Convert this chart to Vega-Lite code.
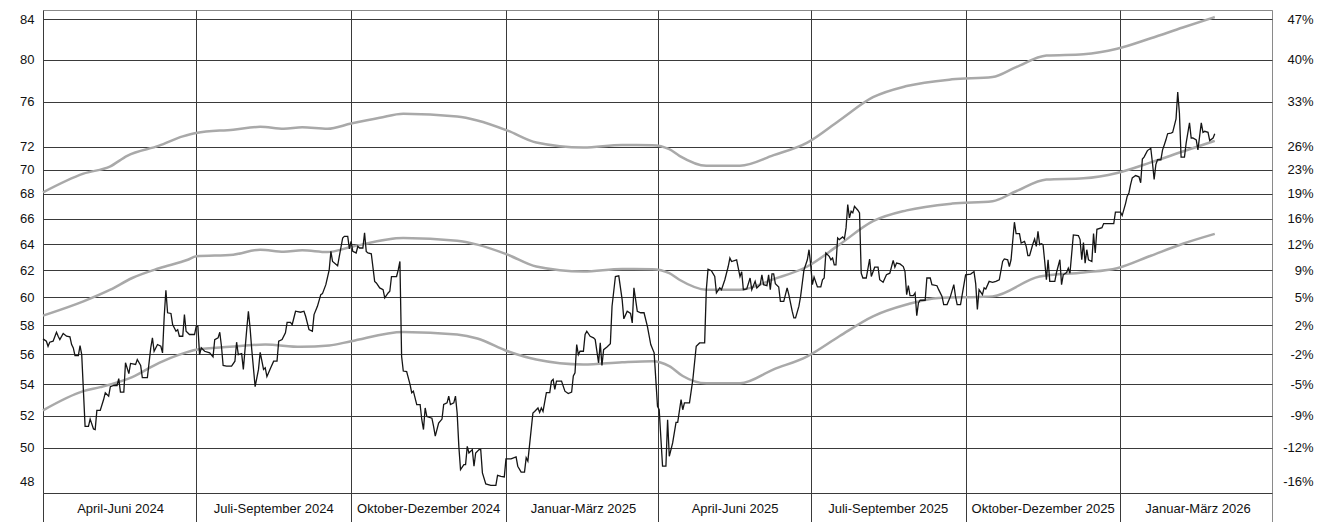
{
"$schema": "https://vega.github.io/schema/vega-lite/v6.json",
"width": 1229, "height": 483,
"autosize": {"type": "none"},
"padding": {"left": 43, "top": 10, "right": 58, "bottom": 29},
"background": "white",
"config": {"font": "Liberation Sans", "view": {"stroke": "#8a8a8a", "strokeWidth": 1}},
"datasets": {
"kurs": [
{"d":"2024-04-01","v":57.06},{"d":"2024-04-03","v":56.90},{"d":"2024-04-04","v":56.55},{"d":"2024-04-05","v":56.83},{"d":"2024-04-07","v":56.90},{"d":"2024-04-09","v":57.52},{"d":"2024-04-10","v":57.24},{"d":"2024-04-11","v":57.01},{"d":"2024-04-13","v":57.43},{"d":"2024-04-15","v":57.24},{"d":"2024-04-17","v":57.20},{"d":"2024-04-18","v":56.67},{"d":"2024-04-19","v":56.44},{"d":"2024-04-20","v":55.91},{"d":"2024-04-22","v":55.91},{"d":"2024-04-23","v":56.60},{"d":"2024-04-24","v":55.98},{"d":"2024-04-26","v":51.33},{"d":"2024-04-28","v":51.33},{"d":"2024-04-29","v":51.78},
{"d":"2024-05-01","v":51.17},{"d":"2024-05-02","v":51.13},{"d":"2024-05-03","v":52.33},{"d":"2024-05-05","v":52.33},{"d":"2024-05-07","v":53.02},{"d":"2024-05-08","v":53.46},{"d":"2024-05-10","v":53.24},{"d":"2024-05-11","v":53.85},{"d":"2024-05-13","v":53.93},{"d":"2024-05-15","v":53.93},{"d":"2024-05-16","v":54.38},{"d":"2024-05-17","v":53.50},{"d":"2024-05-19","v":53.50},{"d":"2024-05-20","v":55.43},{"d":"2024-05-22","v":54.71},{"d":"2024-05-23","v":55.39},{"d":"2024-05-26","v":55.32},{"d":"2024-05-27","v":55.65},{"d":"2024-05-29","v":55.25},{"d":"2024-05-30","v":54.44},
{"d":"2024-06-02","v":54.44},{"d":"2024-06-04","v":56.44},{"d":"2024-06-05","v":57.13},{"d":"2024-06-06","v":56.21},{"d":"2024-06-08","v":56.67},{"d":"2024-06-10","v":56.55},{"d":"2024-06-11","v":56.10},{"d":"2024-06-12","v":58.64},{"d":"2024-06-13","v":60.51},{"d":"2024-06-14","v":58.89},{"d":"2024-06-16","v":58.84},{"d":"2024-06-17","v":58.05},{"d":"2024-06-19","v":57.59},{"d":"2024-06-20","v":57.70},{"d":"2024-06-21","v":57.24},{"d":"2024-06-23","v":57.24},{"d":"2024-06-24","v":58.76},{"d":"2024-06-25","v":57.59},{"d":"2024-06-27","v":57.36},{"d":"2024-06-30","v":57.36},
{"d":"2024-07-01","v":57.93},{"d":"2024-07-02","v":57.93},{"d":"2024-07-03","v":55.98},{"d":"2024-07-04","v":56.44},{"d":"2024-07-06","v":56.21},{"d":"2024-07-09","v":56.10},{"d":"2024-07-11","v":55.83},{"d":"2024-07-12","v":57.01},{"d":"2024-07-14","v":57.13},{"d":"2024-07-15","v":57.52},{"d":"2024-07-16","v":56.55},{"d":"2024-07-17","v":55.25},{"d":"2024-07-19","v":55.21},{"d":"2024-07-22","v":55.21},{"d":"2024-07-24","v":55.54},{"d":"2024-07-25","v":56.83},{"d":"2024-07-26","v":55.98},{"d":"2024-07-28","v":56.05},{"d":"2024-07-29","v":54.99},{"d":"2024-07-31","v":57.70},
{"d":"2024-08-01","v":59.00},{"d":"2024-08-02","v":57.82},{"d":"2024-08-03","v":56.32},{"d":"2024-08-05","v":53.85},{"d":"2024-08-07","v":54.99},{"d":"2024-08-08","v":56.14},{"d":"2024-08-10","v":54.99},{"d":"2024-08-11","v":55.10},{"d":"2024-08-12","v":54.51},{"d":"2024-08-14","v":55.04},{"d":"2024-08-16","v":55.54},{"d":"2024-08-18","v":55.54},{"d":"2024-08-19","v":56.90},{"d":"2024-08-21","v":57.01},{"d":"2024-08-23","v":57.48},{"d":"2024-08-24","v":58.21},{"d":"2024-08-26","v":58.21},{"d":"2024-08-27","v":58.05},{"d":"2024-08-29","v":59.00},
{"d":"2024-09-01","v":58.93},{"d":"2024-09-03","v":59.00},{"d":"2024-09-04","v":58.64},{"d":"2024-09-06","v":57.70},{"d":"2024-09-08","v":57.59},{"d":"2024-09-09","v":58.76},{"d":"2024-09-11","v":59.35},{"d":"2024-09-13","v":60.20},{"d":"2024-09-14","v":60.27},{"d":"2024-09-16","v":60.93},{"d":"2024-09-18","v":62.02},{"d":"2024-09-19","v":63.43},{"d":"2024-09-20","v":62.66},{"d":"2024-09-23","v":62.33},{"d":"2024-09-24","v":63.05},{"d":"2024-09-26","v":64.47},{"d":"2024-09-27","v":64.60},{"d":"2024-09-29","v":64.60},{"d":"2024-09-30","v":63.62},
{"d":"2024-10-01","v":64.21},{"d":"2024-10-02","v":63.43},{"d":"2024-10-04","v":63.31},{"d":"2024-10-05","v":63.82},{"d":"2024-10-06","v":63.69},{"d":"2024-10-08","v":63.69},{"d":"2024-10-09","v":64.87},{"d":"2024-10-10","v":63.43},{"d":"2024-10-11","v":63.31},{"d":"2024-10-13","v":63.25},{"d":"2024-10-15","v":61.17},{"d":"2024-10-16","v":61.05},{"d":"2024-10-18","v":60.69},{"d":"2024-10-20","v":60.56},{"d":"2024-10-21","v":59.96},{"d":"2024-10-23","v":60.32},{"d":"2024-10-24","v":60.44},{"d":"2024-10-25","v":61.53},{"d":"2024-10-28","v":61.53},{"d":"2024-10-29","v":62.02},{"d":"2024-10-30","v":62.66},{"d":"2024-10-31","v":55.87},
{"d":"2024-11-01","v":54.88},{"d":"2024-11-03","v":54.84},{"d":"2024-11-05","v":54.00},{"d":"2024-11-06","v":53.46},{"d":"2024-11-07","v":53.56},{"d":"2024-11-09","v":52.70},{"d":"2024-11-11","v":52.70},{"d":"2024-11-12","v":51.74},{"d":"2024-11-13","v":51.13},{"d":"2024-11-14","v":52.48},{"d":"2024-11-15","v":51.94},{"d":"2024-11-18","v":51.84},{"d":"2024-11-19","v":51.33},{"d":"2024-11-20","v":50.72},{"d":"2024-11-22","v":51.53},{"d":"2024-11-24","v":51.78},{"d":"2024-11-25","v":52.70},{"d":"2024-11-27","v":52.81},{"d":"2024-11-28","v":53.24},{"d":"2024-11-29","v":52.70},
{"d":"2024-12-01","v":52.81},{"d":"2024-12-02","v":53.24},{"d":"2024-12-03","v":52.16},{"d":"2024-12-04","v":50.10},{"d":"2024-12-05","v":48.71},{"d":"2024-12-07","v":49.01},{"d":"2024-12-08","v":49.01},{"d":"2024-12-09","v":50.10},{"d":"2024-12-10","v":49.70},{"d":"2024-12-12","v":49.90},{"d":"2024-12-13","v":48.91},{"d":"2024-12-14","v":49.70},{"d":"2024-12-16","v":49.90},{"d":"2024-12-17","v":49.90},{"d":"2024-12-18","v":48.52},{"d":"2024-12-20","v":47.87},{"d":"2024-12-23","v":47.79},{"d":"2024-12-26","v":47.79},{"d":"2024-12-27","v":48.37},{"d":"2024-12-29","v":48.31},{"d":"2024-12-31","v":48.28},
{"d":"2025-01-01","v":49.35},{"d":"2025-01-04","v":49.35},{"d":"2025-01-07","v":49.47},{"d":"2025-01-08","v":48.91},{"d":"2025-01-10","v":48.56},{"d":"2025-01-12","v":48.56},{"d":"2025-01-13","v":49.41},{"d":"2025-01-14","v":49.21},{"d":"2025-01-17","v":52.16},{"d":"2025-01-18","v":52.26},{"d":"2025-01-20","v":52.48},{"d":"2025-01-21","v":52.20},{"d":"2025-01-22","v":52.48},{"d":"2025-01-23","v":52.26},{"d":"2025-01-25","v":53.46},{"d":"2025-01-27","v":53.46},{"d":"2025-01-28","v":54.22},{"d":"2025-01-29","v":54.33},{"d":"2025-01-30","v":53.67},{"d":"2025-01-31","v":54.22},
{"d":"2025-02-03","v":54.22},{"d":"2025-02-05","v":53.56},{"d":"2025-02-07","v":53.41},{"d":"2025-02-09","v":53.50},{"d":"2025-02-10","v":54.55},{"d":"2025-02-11","v":54.77},{"d":"2025-02-12","v":56.67},{"d":"2025-02-13","v":55.98},{"d":"2025-02-14","v":56.21},{"d":"2025-02-16","v":56.21},{"d":"2025-02-17","v":57.36},{"d":"2025-02-18","v":57.59},{"d":"2025-02-20","v":57.24},{"d":"2025-02-22","v":57.13},{"d":"2025-02-23","v":57.01},{"d":"2025-02-25","v":55.43},{"d":"2025-02-26","v":56.78},{"d":"2025-02-27","v":55.25},{"d":"2025-02-28","v":56.32},
{"d":"2025-03-02","v":56.50},{"d":"2025-03-04","v":56.73},{"d":"2025-03-05","v":59.36},{"d":"2025-03-07","v":61.53},{"d":"2025-03-09","v":61.58},{"d":"2025-03-11","v":59.84},{"d":"2025-03-12","v":58.46},{"d":"2025-03-14","v":59.00},{"d":"2025-03-16","v":58.84},{"d":"2025-03-17","v":58.17},{"d":"2025-03-18","v":60.69},{"d":"2025-03-20","v":59.00},{"d":"2025-03-22","v":58.89},{"d":"2025-03-24","v":58.89},{"d":"2025-03-26","v":57.93},{"d":"2025-03-28","v":56.67},{"d":"2025-03-30","v":56.10},
{"d":"2025-04-01","v":52.59},{"d":"2025-04-02","v":52.37},{"d":"2025-04-04","v":48.91},{"d":"2025-04-06","v":48.91},{"d":"2025-04-07","v":51.74},{"d":"2025-04-08","v":49.50},{"d":"2025-04-10","v":50.31},{"d":"2025-04-12","v":51.57},{"d":"2025-04-13","v":51.57},{"d":"2025-04-15","v":53.02},{"d":"2025-04-16","v":52.37},{"d":"2025-04-17","v":52.81},{"d":"2025-04-20","v":52.81},{"d":"2025-04-22","v":54.33},{"d":"2025-04-24","v":56.55},{"d":"2025-04-26","v":56.78},{"d":"2025-04-29","v":56.78},{"d":"2025-04-30","v":60.56},
{"d":"2025-05-01","v":62.08},{"d":"2025-05-03","v":61.97},{"d":"2025-05-05","v":61.53},{"d":"2025-05-06","v":60.32},{"d":"2025-05-08","v":60.69},{"d":"2025-05-09","v":60.56},{"d":"2025-05-11","v":61.29},{"d":"2025-05-13","v":62.28},{"d":"2025-05-14","v":62.92},{"d":"2025-05-15","v":62.66},{"d":"2025-05-18","v":62.79},{"d":"2025-05-20","v":61.53},{"d":"2025-05-21","v":61.89},{"d":"2025-05-22","v":60.56},{"d":"2025-05-24","v":60.61},{"d":"2025-05-26","v":61.42},{"d":"2025-05-27","v":60.56},{"d":"2025-05-29","v":61.17},{"d":"2025-05-30","v":60.69},
{"d":"2025-06-01","v":60.93},{"d":"2025-06-02","v":61.66},{"d":"2025-06-03","v":60.93},{"d":"2025-06-05","v":60.85},{"d":"2025-06-06","v":61.66},{"d":"2025-06-07","v":60.56},{"d":"2025-06-08","v":61.73},{"d":"2025-06-09","v":61.73},{"d":"2025-06-10","v":61.00},{"d":"2025-06-12","v":60.76},{"d":"2025-06-13","v":59.71},{"d":"2025-06-15","v":59.71},{"d":"2025-06-17","v":60.69},{"d":"2025-06-18","v":60.20},{"d":"2025-06-20","v":59.00},{"d":"2025-06-21","v":58.53},{"d":"2025-06-22","v":58.53},{"d":"2025-06-24","v":59.36},{"d":"2025-06-25","v":60.07},{"d":"2025-06-27","v":62.02},{"d":"2025-06-29","v":62.79},{"d":"2025-06-30","v":63.56},
{"d":"2025-07-01","v":62.41},{"d":"2025-07-02","v":60.93},{"d":"2025-07-03","v":61.49},{"d":"2025-07-05","v":60.76},{"d":"2025-07-07","v":60.76},{"d":"2025-07-08","v":61.29},{"d":"2025-07-09","v":61.42},{"d":"2025-07-10","v":63.31},{"d":"2025-07-12","v":63.05},{"d":"2025-07-13","v":62.79},{"d":"2025-07-14","v":62.92},{"d":"2025-07-15","v":62.41},{"d":"2025-07-16","v":62.41},{"d":"2025-07-17","v":64.47},{"d":"2025-07-18","v":64.34},{"d":"2025-07-20","v":64.55},{"d":"2025-07-21","v":64.39},{"d":"2025-07-22","v":65.26},{"d":"2025-07-23","v":67.13},{"d":"2025-07-24","v":66.06},{"d":"2025-07-25","v":66.59},{"d":"2025-07-26","v":66.46},{"d":"2025-07-27","v":66.99},{"d":"2025-07-29","v":66.67},{"d":"2025-07-30","v":66.46},{"d":"2025-07-31","v":61.78},
{"d":"2025-08-01","v":61.42},{"d":"2025-08-03","v":61.42},{"d":"2025-08-05","v":62.85},{"d":"2025-08-06","v":61.53},{"d":"2025-08-08","v":62.23},{"d":"2025-08-10","v":62.23},{"d":"2025-08-11","v":61.29},{"d":"2025-08-13","v":61.10},{"d":"2025-08-15","v":61.66},{"d":"2025-08-17","v":61.78},{"d":"2025-08-19","v":62.74},{"d":"2025-08-20","v":62.23},{"d":"2025-08-21","v":62.54},{"d":"2025-08-23","v":62.48},{"d":"2025-08-25","v":62.28},{"d":"2025-08-26","v":61.90},{"d":"2025-08-27","v":60.20},{"d":"2025-08-28","v":60.85},{"d":"2025-08-29","v":60.12},{"d":"2025-08-31","v":60.12},
{"d":"2025-09-01","v":60.32},{"d":"2025-09-02","v":58.69},{"d":"2025-09-03","v":59.60},{"d":"2025-09-04","v":59.79},{"d":"2025-09-07","v":59.79},{"d":"2025-09-08","v":61.42},{"d":"2025-09-10","v":61.42},{"d":"2025-09-11","v":60.93},{"d":"2025-09-14","v":60.85},{"d":"2025-09-15","v":60.56},{"d":"2025-09-17","v":60.07},{"d":"2025-09-18","v":59.48},{"d":"2025-09-20","v":59.48},{"d":"2025-09-22","v":60.07},{"d":"2025-09-24","v":60.93},{"d":"2025-09-25","v":60.07},{"d":"2025-09-26","v":59.48},{"d":"2025-09-28","v":59.48},{"d":"2025-09-29","v":60.20},
{"d":"2025-10-01","v":61.66},{"d":"2025-10-04","v":61.71},{"d":"2025-10-06","v":61.90},{"d":"2025-10-07","v":61.00},{"d":"2025-10-08","v":59.12},{"d":"2025-10-09","v":60.56},{"d":"2025-10-11","v":60.20},{"d":"2025-10-12","v":60.69},{"d":"2025-10-13","v":60.61},{"d":"2025-10-15","v":61.17},{"d":"2025-10-17","v":61.10},{"d":"2025-10-19","v":61.17},{"d":"2025-10-21","v":61.29},{"d":"2025-10-23","v":62.66},{"d":"2025-10-24","v":62.85},{"d":"2025-10-26","v":62.79},{"d":"2025-10-27","v":62.28},{"d":"2025-10-28","v":62.79},{"d":"2025-10-30","v":65.71},{"d":"2025-10-31","v":64.81},
{"d":"2025-11-02","v":64.81},{"d":"2025-11-03","v":64.08},{"d":"2025-11-05","v":64.20},{"d":"2025-11-06","v":63.82},{"d":"2025-11-07","v":63.10},{"d":"2025-11-08","v":63.10},{"d":"2025-11-10","v":64.02},{"d":"2025-11-11","v":64.39},{"d":"2025-11-12","v":63.82},{"d":"2025-11-13","v":64.99},{"d":"2025-11-14","v":63.95},{"d":"2025-11-15","v":64.02},{"d":"2025-11-16","v":63.95},{"d":"2025-11-17","v":62.66},{"d":"2025-11-18","v":61.29},{"d":"2025-11-19","v":62.79},{"d":"2025-11-20","v":61.17},{"d":"2025-11-23","v":61.17},{"d":"2025-11-24","v":61.83},{"d":"2025-11-26","v":62.79},{"d":"2025-11-27","v":60.93},{"d":"2025-11-28","v":61.66},{"d":"2025-11-30","v":61.83},
{"d":"2025-12-01","v":62.15},{"d":"2025-12-02","v":61.78},{"d":"2025-12-04","v":64.71},{"d":"2025-12-07","v":64.66},{"d":"2025-12-08","v":64.34},{"d":"2025-12-09","v":62.79},{"d":"2025-12-10","v":64.12},{"d":"2025-12-11","v":62.54},{"d":"2025-12-12","v":63.56},{"d":"2025-12-13","v":62.79},{"d":"2025-12-15","v":62.66},{"d":"2025-12-16","v":64.81},{"d":"2025-12-17","v":63.31},{"d":"2025-12-18","v":65.15},{"d":"2025-12-21","v":65.28},{"d":"2025-12-22","v":65.60},{"d":"2025-12-28","v":65.60},{"d":"2025-12-29","v":66.51},
{"d":"2026-01-01","v":66.51},{"d":"2026-01-02","v":66.24},{"d":"2026-01-04","v":67.21},{"d":"2026-01-05","v":67.81},{"d":"2026-01-06","v":68.08},{"d":"2026-01-07","v":68.77},{"d":"2026-01-08","v":69.33},{"d":"2026-01-10","v":69.53},{"d":"2026-01-12","v":69.42},{"d":"2026-01-13","v":68.92},{"d":"2026-01-14","v":70.93},{"d":"2026-01-15","v":71.10},{"d":"2026-01-17","v":71.66},{"d":"2026-01-19","v":71.86},{"d":"2026-01-20","v":70.59},{"d":"2026-01-21","v":69.20},{"d":"2026-01-22","v":70.45},{"d":"2026-01-23","v":70.87},{"d":"2026-01-25","v":70.87},{"d":"2026-01-26","v":71.72},{"d":"2026-01-27","v":72.15},{"d":"2026-01-28","v":72.60},{"d":"2026-01-29","v":73.14},{"d":"2026-01-31","v":73.20},
{"d":"2026-02-01","v":73.26},{"d":"2026-02-03","v":74.47},{"d":"2026-02-04","v":76.92},{"d":"2026-02-05","v":75.01},{"d":"2026-02-06","v":71.10},{"d":"2026-02-08","v":71.10},{"d":"2026-02-09","v":72.31},{"d":"2026-02-11","v":74.11},{"d":"2026-02-12","v":72.76},{"d":"2026-02-13","v":72.76},{"d":"2026-02-15","v":72.60},{"d":"2026-02-16","v":71.72},{"d":"2026-02-18","v":74.11},{"d":"2026-02-19","v":73.26},{"d":"2026-02-20","v":73.35},{"d":"2026-02-22","v":73.26},{"d":"2026-02-23","v":72.54},{"d":"2026-02-25","v":72.76},{"d":"2026-02-26","v":73.14}
],
"band": [
{"s":"o","d":"2024-04-01","v":68.13},{"s":"o","d":"2024-04-25","v":69.69},{"s":"o","d":"2024-05-11","v":70.31},{"s":"o","d":"2024-05-21","v":71.21},{"s":"o","d":"2024-06-09","v":72.09},{"s":"o","d":"2024-06-23","v":72.90},{"s":"o","d":"2024-07-01","v":73.21},{"s":"o","d":"2024-07-23","v":73.50},{"s":"o","d":"2024-08-08","v":73.75},{"s":"o","d":"2024-08-22","v":73.57},{"s":"o","d":"2024-09-02","v":73.71},{"s":"o","d":"2024-09-17","v":73.57},{"s":"o","d":"2024-10-01","v":74.04},{"s":"o","d":"2024-10-18","v":74.56},{"s":"o","d":"2024-11-01","v":74.92},{"s":"o","d":"2024-12-03","v":74.68},{"s":"o","d":"2024-12-15","v":74.32},{"s":"o","d":"2025-01-02","v":73.41},{"s":"o","d":"2025-01-19","v":72.36},{"s":"o","d":"2025-02-16","v":71.92},{"s":"o","d":"2025-03-11","v":72.15},{"s":"o","d":"2025-03-29","v":72.13},{"s":"o","d":"2025-04-08","v":71.78},{"s":"o","d":"2025-04-14","v":71.21},{"s":"o","d":"2025-04-30","v":70.36},{"s":"o","d":"2025-05-20","v":70.36},{"s":"o","d":"2025-06-09","v":71.27},{"s":"o","d":"2025-06-29","v":72.36},{"s":"o","d":"2025-07-18","v":74.32},{"s":"o","d":"2025-08-07","v":76.44},{"s":"o","d":"2025-08-27","v":77.48},{"s":"o","d":"2025-09-23","v":78.11},{"s":"o","d":"2025-10-17","v":78.33},{"s":"o","d":"2025-10-31","v":79.27},{"s":"o","d":"2025-11-18","v":80.39},{"s":"o","d":"2025-12-10","v":80.52},{"s":"o","d":"2025-12-30","v":81.05},{"s":"o","d":"2026-01-19","v":82.09},{"s":"o","d":"2026-02-07","v":83.17},{"s":"o","d":"2026-02-26","v":84.23},
{"s":"m","d":"2024-04-01","v":58.69},{"s":"m","d":"2024-04-25","v":59.71},{"s":"m","d":"2024-05-11","v":60.56},{"s":"m","d":"2024-05-24","v":61.42},{"s":"m","d":"2024-06-09","v":62.15},{"s":"m","d":"2024-06-26","v":62.79},{"s":"m","d":"2024-07-01","v":63.05},{"s":"m","d":"2024-07-23","v":63.18},{"s":"m","d":"2024-08-08","v":63.56},{"s":"m","d":"2024-08-22","v":63.41},{"s":"m","d":"2024-09-02","v":63.51},{"s":"m","d":"2024-09-17","v":63.38},{"s":"m","d":"2024-10-01","v":63.77},{"s":"m","d":"2024-11-01","v":64.47},{"s":"m","d":"2024-12-03","v":64.26},{"s":"m","d":"2024-12-15","v":63.95},{"s":"m","d":"2025-01-02","v":63.18},{"s":"m","d":"2025-01-19","v":62.28},{"s":"m","d":"2025-02-16","v":61.90},{"s":"m","d":"2025-03-11","v":62.10},{"s":"m","d":"2025-03-29","v":62.08},{"s":"m","d":"2025-04-08","v":61.78},{"s":"m","d":"2025-04-14","v":61.29},{"s":"m","d":"2025-04-30","v":60.56},{"s":"m","d":"2025-05-20","v":60.56},{"s":"m","d":"2025-06-09","v":61.34},{"s":"m","d":"2025-06-29","v":62.28},{"s":"m","d":"2025-07-18","v":63.95},{"s":"m","d":"2025-08-07","v":65.79},{"s":"m","d":"2025-08-27","v":66.66},{"s":"m","d":"2025-09-23","v":67.21},{"s":"m","d":"2025-10-17","v":67.40},{"s":"m","d":"2025-10-31","v":68.22},{"s":"m","d":"2025-11-18","v":69.19},{"s":"m","d":"2025-12-10","v":69.30},{"s":"m","d":"2025-12-30","v":69.75},{"s":"m","d":"2026-01-19","v":70.64},{"s":"m","d":"2026-02-07","v":71.58},{"s":"m","d":"2026-02-26","v":72.51},
{"s":"u","d":"2024-04-01","v":52.33},{"s":"u","d":"2024-04-25","v":53.56},{"s":"u","d":"2024-05-05","v":53.82},{"s":"u","d":"2024-05-24","v":54.48},{"s":"u","d":"2024-06-09","v":55.43},{"s":"u","d":"2024-06-21","v":55.98},{"s":"u","d":"2024-07-01","v":56.32},{"s":"u","d":"2024-07-21","v":56.51},{"s":"u","d":"2024-08-11","v":56.67},{"s":"u","d":"2024-09-01","v":56.51},{"s":"u","d":"2024-09-18","v":56.60},{"s":"u","d":"2024-10-01","v":56.90},{"s":"u","d":"2024-11-01","v":57.54},{"s":"u","d":"2024-12-03","v":57.36},{"s":"u","d":"2024-12-15","v":57.08},{"s":"u","d":"2025-01-02","v":56.21},{"s":"u","d":"2025-01-19","v":55.65},{"s":"u","d":"2025-02-16","v":55.32},{"s":"u","d":"2025-03-11","v":55.47},{"s":"u","d":"2025-03-29","v":55.54},{"s":"u","d":"2025-04-08","v":55.21},{"s":"u","d":"2025-04-16","v":54.55},{"s":"u","d":"2025-04-30","v":54.07},{"s":"u","d":"2025-05-20","v":54.07},{"s":"u","d":"2025-06-09","v":54.99},{"s":"u","d":"2025-06-29","v":55.87},{"s":"u","d":"2025-07-18","v":57.24},{"s":"u","d":"2025-08-07","v":58.64},{"s":"u","d":"2025-08-27","v":59.48},{"s":"u","d":"2025-09-15","v":59.96},{"s":"u","d":"2025-10-09","v":60.03},{"s":"u","d":"2025-10-17","v":60.07},{"s":"u","d":"2025-11-14","v":61.53},{"s":"u","d":"2025-12-10","v":61.83},{"s":"u","d":"2025-12-30","v":62.15},{"s":"u","d":"2026-01-19","v":63.10},{"s":"u","d":"2026-02-07","v":64.02},{"s":"u","d":"2026-02-26","v":64.79}
]
},
"layer": [
{
"data": {"name": "band"},
"mark": {"type": "line", "interpolate": "monotone", "color": "#a9a9a9", "strokeWidth": 2.5},
"encoding": {
"x": {"field": "d", "type": "temporal",
 "scale": {"type": "utc", "domain": [{"year": 2024, "month": 4, "date": 1, "utc": true}, {"year": 2026, "month": 4, "date": 1, "utc": true}], "nice": false},
 "axis": {"title": null,
  "values": [{"year": 2024, "month": 4, "date": 1, "utc": true}, {"year": 2024, "month": 7, "date": 1, "utc": true}, {"year": 2024, "month": 10, "date": 1, "utc": true}, {"year": 2025, "month": 1, "date": 1, "utc": true}, {"year": 2025, "month": 4, "date": 1, "utc": true}, {"year": 2025, "month": 7, "date": 1, "utc": true}, {"year": 2025, "month": 10, "date": 1, "utc": true}, {"year": 2026, "month": 1, "date": 1, "utc": true}, {"year": 2026, "month": 4, "date": 1, "utc": true}],
  "grid": true, "gridWidth": 1,
  "gridColor": {"condition": {"test": "utcyear(datum.value) == 2026 && utcmonth(datum.value) == 3", "value": "#8a8a8a"}, "value": "#3a3a3a"},
  "ticks": true, "tickSize": 29, "tickWidth": 1,
  "tickColor": {"condition": {"test": "utcyear(datum.value) == 2026 && utcmonth(datum.value) == 3", "value": "#8a8a8a"}, "value": "#3a3a3a"},
  "domain": true, "domainColor": "#3a3a3a", "domainWidth": 1,
  "labelExpr": "(utcyear(datum.value) == 2026 && utcmonth(datum.value) == 3) ? '' : (utcmonth(datum.value) == 3 ? 'April-Juni ' : utcmonth(datum.value) == 6 ? 'Juli-September ' : utcmonth(datum.value) == 9 ? 'Oktober-Dezember ' : 'Januar-März ') + utcyear(datum.value)",
  "labelAlign": "center", "labelBaseline": "middle", "labelOffset": 77, "labelPadding": -14,
  "labelFontSize": 13, "labelColor": "#111111", "labelFlush": false, "labelOverlap": false, "labelBound": false}},
"y": {"field": "v", "type": "quantitative",
 "scale": {"type": "log", "domain": [47.35, 84.95], "nice": false, "zero": false},
 "axis": {"orient": "left", "title": null,
  "values": [48, 50, 52, 54, 56, 58, 60, 62, 64, 66, 68, 70, 72, 76, 80, 84],
  "labelExpr": "'' + datum.value",
  "grid": true, "gridWidth": 1,
  "gridColor": {"condition": {"test": "datum.value == 48", "value": "transparent"}, "value": "#3a3a3a"},
  "ticks": false, "domain": false, "labelPadding": 9, "labelFontSize": 13, "labelColor": "#111111", "labelOverlap": false}},
"detail": {"field": "s", "type": "nominal"}
}
},
{
"data": {"name": "kurs"},
"mark": {"type": "line", "color": "#151515", "strokeWidth": 1.3},
"encoding": {
"x": {"field": "d", "type": "temporal"},
"y": {"field": "v", "type": "quantitative",
 "scale": {"type": "log", "domain": [47.35, 84.95], "nice": false, "zero": false},
 "axis": {"orient": "right", "title": null,
  "values": [48, 50, 52, 54, 56, 58, 60, 62, 64, 66, 68, 70, 72, 76, 80, 84],
  "labelExpr": "round(datum.value / 57.14 * 100 - 100) + '%'",
  "grid": false, "ticks": false, "domain": false,
  "labelAlign": "right", "labelPadding": 41, "labelFontSize": 13, "labelColor": "#111111", "labelOverlap": false}}
}
}
],
"resolve": {"axis": {"y": "independent", "x": "shared"}}
}
